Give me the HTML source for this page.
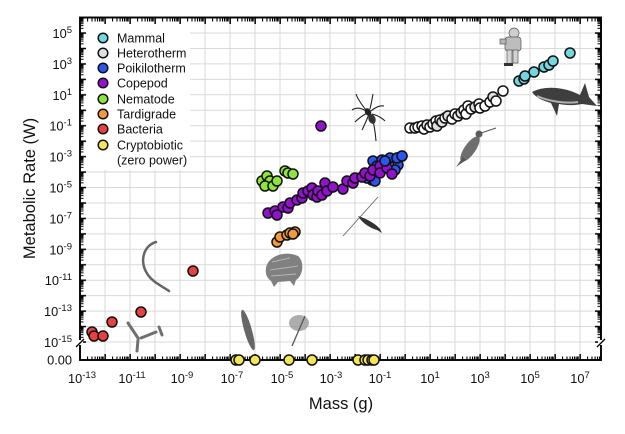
<!DOCTYPE html>
<html><head><meta charset="utf-8">
<style>
html,body{margin:0;padding:0;background:#fff;}
svg{display:block;font-family:"Liberation Sans",Arial,sans-serif;}
</style></head>
<body>
<svg width="625" height="434" viewBox="0 0 625 434" xmlns="http://www.w3.org/2000/svg">
<defs>
<pattern id="txT" patternUnits="userSpaceOnUse" x="79" y="18" width="25" height="8">
 <rect x="0.4" y="0" width="1.5" height="6" fill="#000"/>
 <rect x="8.03" y="0" width="1.1" height="3.5" fill="#000"/>
 <rect x="12.43" y="0" width="1.1" height="3.5" fill="#000"/>
 <rect x="15.55" y="0" width="1.1" height="3.5" fill="#000"/>
 <rect x="17.97" y="0" width="1.1" height="3.5" fill="#000"/>
 <rect x="19.95" y="0" width="1.1" height="3.5" fill="#000"/>
 <rect x="21.63" y="0" width="1.1" height="3.5" fill="#000"/>
 <rect x="23.08" y="0" width="1" height="3.5" fill="#000"/>
 <rect x="24.36" y="0" width="0.64" height="3.5" fill="#000"/>
</pattern>
<pattern id="txB" patternUnits="userSpaceOnUse" x="79" y="354" width="25" height="6">
 <rect x="0.4" y="0" width="1.5" height="6" fill="#000"/>
 <rect x="8.03" y="2.5" width="1.1" height="3.5" fill="#000"/>
 <rect x="12.43" y="2.5" width="1.1" height="3.5" fill="#000"/>
 <rect x="15.55" y="2.5" width="1.1" height="3.5" fill="#000"/>
 <rect x="17.97" y="2.5" width="1.1" height="3.5" fill="#000"/>
 <rect x="19.95" y="2.5" width="1.1" height="3.5" fill="#000"/>
 <rect x="21.63" y="2.5" width="1.1" height="3.5" fill="#000"/>
 <rect x="23.08" y="2.5" width="1" height="3.5" fill="#000"/>
 <rect x="24.36" y="2.5" width="0.64" height="3.5" fill="#000"/>
</pattern>
<pattern id="tyL" patternUnits="userSpaceOnUse" x="80" y="16.55" width="8" height="15.45">
 <rect x="0" y="0.3" width="6" height="1.5" fill="#000"/>
 <rect x="0" y="1.21" width="3.5" height="1" fill="#000"/>
 <rect x="0" y="2.0" width="3.5" height="1" fill="#000"/>
 <rect x="0" y="2.89" width="3.5" height="1" fill="#000"/>
 <rect x="0" y="3.93" width="3.5" height="1" fill="#000"/>
 <rect x="0" y="5.15" width="3.5" height="1" fill="#000"/>
 <rect x="0" y="6.65" width="3.5" height="1" fill="#000"/>
 <rect x="0" y="8.58" width="3.5" height="1" fill="#000"/>
 <rect x="0" y="11.3" width="3.5" height="1" fill="#000"/>
</pattern>
<pattern id="tyR" patternUnits="userSpaceOnUse" x="595" y="16.55" width="6" height="15.45">
 <rect x="0" y="0.3" width="6" height="1.5" fill="#000"/>
 <rect x="2.5" y="1.21" width="3.5" height="1" fill="#000"/>
 <rect x="2.5" y="2.0" width="3.5" height="1" fill="#000"/>
 <rect x="2.5" y="2.89" width="3.5" height="1" fill="#000"/>
 <rect x="2.5" y="3.93" width="3.5" height="1" fill="#000"/>
 <rect x="2.5" y="5.15" width="3.5" height="1" fill="#000"/>
 <rect x="2.5" y="6.65" width="3.5" height="1" fill="#000"/>
 <rect x="2.5" y="8.58" width="3.5" height="1" fill="#000"/>
 <rect x="2.5" y="11.3" width="3.5" height="1" fill="#000"/>
</pattern>
</defs>

<!-- grid -->
<path d="M105 18V360M130 18V360M155 18V360M180 18V360M205 18V360M230 18V360M255 18V360M280 18V360M305 18V360M330 18V360M355 18V360M380 18V360M405 18V360M430 18V360M455 18V360M480 18V360M505 18V360M530 18V360M555 18V360M580 18V360
M80 33H601M80 48.45H601M80 63.9H601M80 79.35H601M80 94.8H601M80 110.25H601M80 125.7H601M80 141.15H601M80 156.6H601M80 172.05H601M80 187.5H601M80 202.95H601M80 218.4H601M80 233.85H601M80 249.3H601M80 264.75H601M80 280.2H601M80 295.65H601M80 311.1H601M80 326.55H601M80 342H601" stroke="#d9d9d9" stroke-width="1" fill="none"/>

<!-- legend background -->
<rect x="86" y="24" width="104" height="146" fill="#fff"/>

<!-- silhouettes -->
<!-- astronaut -->
<g stroke="#555" stroke-width="0.7">
 <circle cx="514" cy="33" r="5" fill="#cfcfcf"/>
 <rect x="505" y="37" width="16" height="14" rx="3" fill="#bdbdbd"/>
 <rect x="500" y="39" width="6" height="5" fill="#b5b5b5"/>
 <rect x="507" y="50" width="5" height="15" fill="#d4d4d4"/>
 <rect x="513" y="50" width="5" height="13" fill="#d4d4d4"/>
</g>
<rect x="504" y="63" width="9" height="3" fill="#333"/>
<!-- whale -->
<path d="M532,92 C545,85 565,87 580,95 L585,83 L589,97 L597,106 L582,104 C572,106 564,105 559,104 L557,116 L551,103 C544,101 536,98 532,92Z" fill="#3e3e3e"/>
<path d="M537,96 C548,101 565,104 578,102" stroke="#b0b0b0" stroke-width="2" fill="none"/>
<!-- hummingbird -->
<ellipse cx="470" cy="149" rx="5.5" ry="15" transform="rotate(35 470 149)" fill="#6e6e6e"/>
<path d="M463,157 L456,167 L466,160Z" fill="#555"/>
<circle cx="479" cy="134" r="3.5" fill="#5a5a5a"/>
<path d="M481,133 L496,128" stroke="#555" stroke-width="1"/>
<!-- spider -->
<g stroke="#222" stroke-width="1.1" fill="none">
 <path d="M366,110 Q358,100 356,94 M366,111 Q358,106 352,110 M367,113 Q360,117 355,122 M369,114 Q366,122 362,130 M370,109 Q372,100 373,94 M371,111 Q378,105 384,106 M372,114 Q380,116 385,121 M372,116 Q375,128 376,141"/>
</g>
<ellipse cx="368" cy="112" rx="3" ry="4" transform="rotate(-30 368 112)" fill="#222"/>
<ellipse cx="372" cy="119" rx="3.5" ry="5" transform="rotate(-20 372 119)" fill="#333"/>
<!-- copepod -->
<path d="M343,236 L378,197" stroke="#666" stroke-width="0.9"/>
<path d="M358,216 C364,218 374,222 380,229 L382,233 L377,230 C370,228 362,223 358,216Z" fill="#333"/>
<!-- tardigrade -->
<path d="M266,268 C268,256 285,250 298,256 C305,262 303,276 296,280 L294,286 L290,281 L278,282 L274,287 L271,281 C267,278 265,274 266,268Z" fill="#808080"/>
<path d="M272,262 L290,258 M270,270 L298,266 M271,276 L296,274" stroke="#b5b5b5" stroke-width="1"/>
<!-- worm -->
<path d="M156,242 C143,246 139,262 148,275 C153,282 160,285 169,291" stroke="#666" stroke-width="2.5" fill="none" stroke-linecap="round"/>
<!-- bacteria -->
<g stroke="#707070" stroke-width="3" stroke-linecap="round" fill="none">
 <path d="M128,323 L138,338"/>
 <path d="M138,340 L137,351"/>
 <path d="M141,338 L156,332"/>
 <path d="M159,327 L162,335"/>
</g>
<!-- leaf -->
<ellipse cx="248" cy="330" rx="3.8" ry="21" transform="rotate(-16 248 330)" fill="#666"/>
<!-- larva -->
<ellipse cx="299" cy="323" rx="10" ry="8" fill="#999" opacity="0.8"/>
<path d="M305,316 L292,346" stroke="#555" stroke-width="1.3"/>

<!-- ticks -->
<rect x="80" y="18" width="521" height="6" fill="url(#txT)"/>
<rect x="80" y="354" width="521" height="6" fill="url(#txB)"/>
<rect x="80" y="18" width="6" height="325" fill="url(#tyL)"/>
<rect x="595" y="18" width="6" height="325" fill="url(#tyR)"/>

<!-- frame -->
<rect x="80" y="17.5" width="521" height="342.5" fill="none" stroke="#000" stroke-width="1.9"/>
<!-- axis breaks -->
<rect x="78" y="340" width="5" height="5" fill="#fff"/>
<path d="M76,347 L84,339" stroke="#000" stroke-width="1.3"/>
<rect x="598" y="340" width="5" height="5" fill="#fff"/>
<path d="M597,347 L605,339" stroke="#000" stroke-width="1.3"/>

<!-- data -->
<g stroke="#111" stroke-width="1.5">
<!-- bacteria -->
<g fill="#e8413f">
 <circle cx="92" cy="332" r="5"/><circle cx="94" cy="336" r="5"/><circle cx="103" cy="336" r="5"/>
 <circle cx="112" cy="322" r="5"/><circle cx="141" cy="312" r="5"/><circle cx="193" cy="271" r="5"/>
</g>
<!-- tardigrade -->
<g fill="#f39a3c">
 <circle cx="277" cy="242" r="5"/><circle cx="280" cy="237" r="5"/><circle cx="287" cy="235" r="5"/>
 <circle cx="290" cy="233" r="5"/><circle cx="295" cy="232" r="5"/><circle cx="293" cy="234" r="5"/>
</g>
<!-- nematode -->
<g fill="#8ee43a">
 <circle cx="262" cy="181" r="5"/><circle cx="267" cy="176" r="5"/><circle cx="270" cy="181" r="5"/>
 <circle cx="265" cy="186" r="5"/><circle cx="273" cy="186" r="5"/><circle cx="277" cy="181" r="5"/>
 <circle cx="285" cy="171" r="5"/><circle cx="288" cy="173" r="5"/><circle cx="293" cy="174" r="5"/>
</g>
<!-- poikilotherm (under) -->
<g fill="#2d55f0">
 <circle cx="373" cy="161" r="5"/><circle cx="377" cy="166" r="5"/><circle cx="382" cy="160" r="5"/>
 <circle cx="390" cy="158" r="5"/><circle cx="397" cy="158" r="5"/><circle cx="402" cy="156" r="5"/>
 <circle cx="398" cy="165" r="5"/><circle cx="395" cy="170" r="5"/><circle cx="372" cy="180" r="5"/>
 <circle cx="367" cy="178" r="5"/><circle cx="375" cy="181" r="5"/><circle cx="386" cy="163" r="5"/>
</g>
<!-- copepod -->
<g fill="#9410cf">
 <circle cx="268" cy="213" r="5"/><circle cx="275" cy="211" r="5"/><circle cx="277" cy="215" r="5"/>
 <circle cx="283" cy="207" r="5"/><circle cx="288" cy="208" r="5"/><circle cx="290" cy="203" r="5"/>
 <circle cx="297" cy="200" r="5"/><circle cx="302" cy="198" r="5"/><circle cx="303" cy="193" r="5"/>
 <circle cx="308" cy="191" r="5"/><circle cx="312" cy="188" r="5"/><circle cx="313" cy="195" r="5"/>
 <circle cx="317" cy="197" r="5"/><circle cx="318" cy="191" r="5"/><circle cx="322" cy="195" r="5"/>
 <circle cx="325" cy="183" r="5"/><circle cx="327" cy="191" r="5"/><circle cx="333" cy="187" r="5"/>
 <circle cx="343" cy="189" r="5"/><circle cx="347" cy="181" r="5"/><circle cx="353" cy="183" r="5"/>
 <circle cx="355" cy="178" r="5"/><circle cx="362" cy="177" r="5"/><circle cx="365" cy="173" r="5"/>
 <circle cx="370" cy="176" r="5"/><circle cx="373" cy="170" r="5"/><circle cx="380" cy="166" r="5"/>
 <circle cx="380" cy="173" r="5"/><circle cx="387" cy="168" r="5"/><circle cx="392" cy="174" r="5"/>
 <circle cx="321" cy="126" r="5"/>
</g>
<!-- poikilotherm (over) -->
<g fill="#2d55f0">
 <circle cx="397" cy="158" r="5"/><circle cx="402" cy="156" r="5"/><circle cx="385" cy="161" r="5"/>
</g>
<!-- heterotherm -->
<g>
 <circle cx="410" cy="128" r="5" fill="#fff"/><circle cx="415" cy="128" r="5" fill="#fff"/>
 <circle cx="418" cy="127" r="5" fill="#fff"/><circle cx="422" cy="126" r="5" fill="#fff"/>
 <circle cx="424" cy="129" r="5" fill="#fff"/><circle cx="427" cy="125" r="5" fill="#ddd"/>
 <circle cx="430" cy="127" r="5" fill="#fff"/><circle cx="433" cy="124" r="5" fill="#fff"/>
 <circle cx="436" cy="121" r="5" fill="#fff"/><circle cx="437" cy="126" r="5" fill="#ddd"/>
 <circle cx="440" cy="120" r="5" fill="#fff"/><circle cx="442" cy="122" r="5" fill="#ddd"/>
 <circle cx="445" cy="118" r="5" fill="#fff"/><circle cx="448" cy="116" r="5" fill="#ddd"/>
 <circle cx="452" cy="119" r="5" fill="#fff"/><circle cx="455" cy="114" r="5" fill="#fff"/>
 <circle cx="458" cy="116" r="5" fill="#fff"/><circle cx="461" cy="113" r="5" fill="#ddd"/>
 <circle cx="464" cy="110" r="5" fill="#fff"/><circle cx="466" cy="114" r="5" fill="#fff"/>
 <circle cx="468" cy="106" r="5" fill="#fff"/><circle cx="471" cy="109" r="5" fill="#fff"/>
 <circle cx="475" cy="107" r="5" fill="#ddd"/><circle cx="479" cy="104" r="5" fill="#fff"/>
 <circle cx="480" cy="108" r="5" fill="#fff"/><circle cx="485" cy="106" r="5" fill="#fff"/>
 <circle cx="490" cy="102" r="5" fill="#fff"/><circle cx="493" cy="97" r="5" fill="#ddd"/>
 <circle cx="496" cy="101" r="5" fill="#fff"/><circle cx="503" cy="91" r="5" fill="#fff"/>
</g>
<!-- mammal -->
<g fill="#72d6df">
 <circle cx="519" cy="81" r="5"/><circle cx="524" cy="79" r="5"/><circle cx="525" cy="76" r="5"/>
 <circle cx="534" cy="72" r="5"/><circle cx="544" cy="67" r="5"/><circle cx="549" cy="65" r="5"/>
 <circle cx="553" cy="61" r="5"/><circle cx="570" cy="53" r="5"/>
</g>
<!-- cryptobiotic -->
<g fill="#f3e65a">
 <circle cx="236" cy="360" r="5"/><circle cx="239" cy="360" r="5"/><circle cx="255" cy="360" r="5"/>
 <circle cx="289" cy="360" r="5"/><circle cx="312" cy="360" r="5"/><circle cx="358" cy="360" r="5"/>
 <circle cx="365" cy="360" r="5"/><circle cx="368" cy="360" r="5"/><circle cx="372" cy="360" r="5"/>
 <circle cx="374" cy="360" r="5"/>
</g>
</g>

<!-- legend -->
<g stroke="#111" stroke-width="1.5">
 <circle cx="103" cy="38" r="4.8" fill="#72d6df"/>
 <circle cx="103" cy="53" r="4.8" fill="#e0e0e0"/>
 <circle cx="103" cy="68" r="4.8" fill="#2d55f0"/>
 <circle cx="103" cy="83" r="4.8" fill="#9410cf"/>
 <circle cx="103" cy="99" r="4.8" fill="#8ee43a"/>
 <circle cx="103" cy="114" r="4.8" fill="#f39a3c"/>
 <circle cx="103" cy="129" r="4.8" fill="#e8413f"/>
 <circle cx="103" cy="145" r="4.8" fill="#f3e65a"/>
</g>
<g font-size="12.5" fill="#111">
 <text x="117" y="42.5">Mammal</text>
 <text x="117" y="57.5">Heterotherm</text>
 <text x="117" y="72.5">Poikilotherm</text>
 <text x="117" y="87.5">Copepod</text>
 <text x="117" y="103.5">Nematode</text>
 <text x="117" y="118.5">Tardigrade</text>
 <text x="117" y="133.5">Bacteria</text>
 <text x="117" y="149.5">Cryptobiotic</text>
 <text x="117" y="164.5">(zero power)</text>
</g>

<!-- y tick labels -->
<g font-size="12.8" fill="#111" text-anchor="end">
 <text x="72" y="38">10<tspan dy="-5" font-size="9.5">5</tspan></text>
 <text x="72" y="68.9">10<tspan dy="-5" font-size="9.5">3</tspan></text>
 <text x="72" y="99.8">10<tspan dy="-5" font-size="9.5">1</tspan></text>
 <text x="72" y="130.7">10<tspan dy="-5" font-size="9.5">-1</tspan></text>
 <text x="72" y="161.6">10<tspan dy="-5" font-size="9.5">-3</tspan></text>
 <text x="72" y="192.5">10<tspan dy="-5" font-size="9.5">-5</tspan></text>
 <text x="72" y="223.4">10<tspan dy="-5" font-size="9.5">-7</tspan></text>
 <text x="72" y="254.3">10<tspan dy="-5" font-size="9.5">-9</tspan></text>
 <text x="72" y="285.2">10<tspan dy="-5" font-size="9.5">-11</tspan></text>
 <text x="72" y="316.1">10<tspan dy="-5" font-size="9.5">-13</tspan></text>
 <text x="72" y="347">10<tspan dy="-5" font-size="9.5">-15</tspan></text>
 <text x="72" y="364.5">0.00</text>
</g>

<!-- x tick labels -->
<g font-size="12.8" fill="#111" text-anchor="middle">
 <text x="82" y="383">10<tspan dy="-5" font-size="9.5">-13</tspan></text>
 <text x="132" y="383">10<tspan dy="-5" font-size="9.5">-11</tspan></text>
 <text x="182" y="383">10<tspan dy="-5" font-size="9.5">-9</tspan></text>
 <text x="232" y="383">10<tspan dy="-5" font-size="9.5">-7</tspan></text>
 <text x="282" y="383">10<tspan dy="-5" font-size="9.5">-5</tspan></text>
 <text x="331" y="383">10<tspan dy="-5" font-size="9.5">-3</tspan></text>
 <text x="380" y="383">10<tspan dy="-5" font-size="9.5">-1</tspan></text>
 <text x="430" y="383">10<tspan dy="-5" font-size="9.5">1</tspan></text>
 <text x="480" y="383">10<tspan dy="-5" font-size="9.5">3</tspan></text>
 <text x="530" y="383">10<tspan dy="-5" font-size="9.5">5</tspan></text>
 <text x="580" y="383">10<tspan dy="-5" font-size="9.5">7</tspan></text>
</g>

<!-- axis titles -->
<text x="341" y="409" font-size="16.5" fill="#111" text-anchor="middle">Mass (g)</text>
<text transform="translate(35 188.5) rotate(-90)" font-size="16.5" fill="#111" text-anchor="middle">Metabolic Rate (W)</text>
</svg>
</body></html>
